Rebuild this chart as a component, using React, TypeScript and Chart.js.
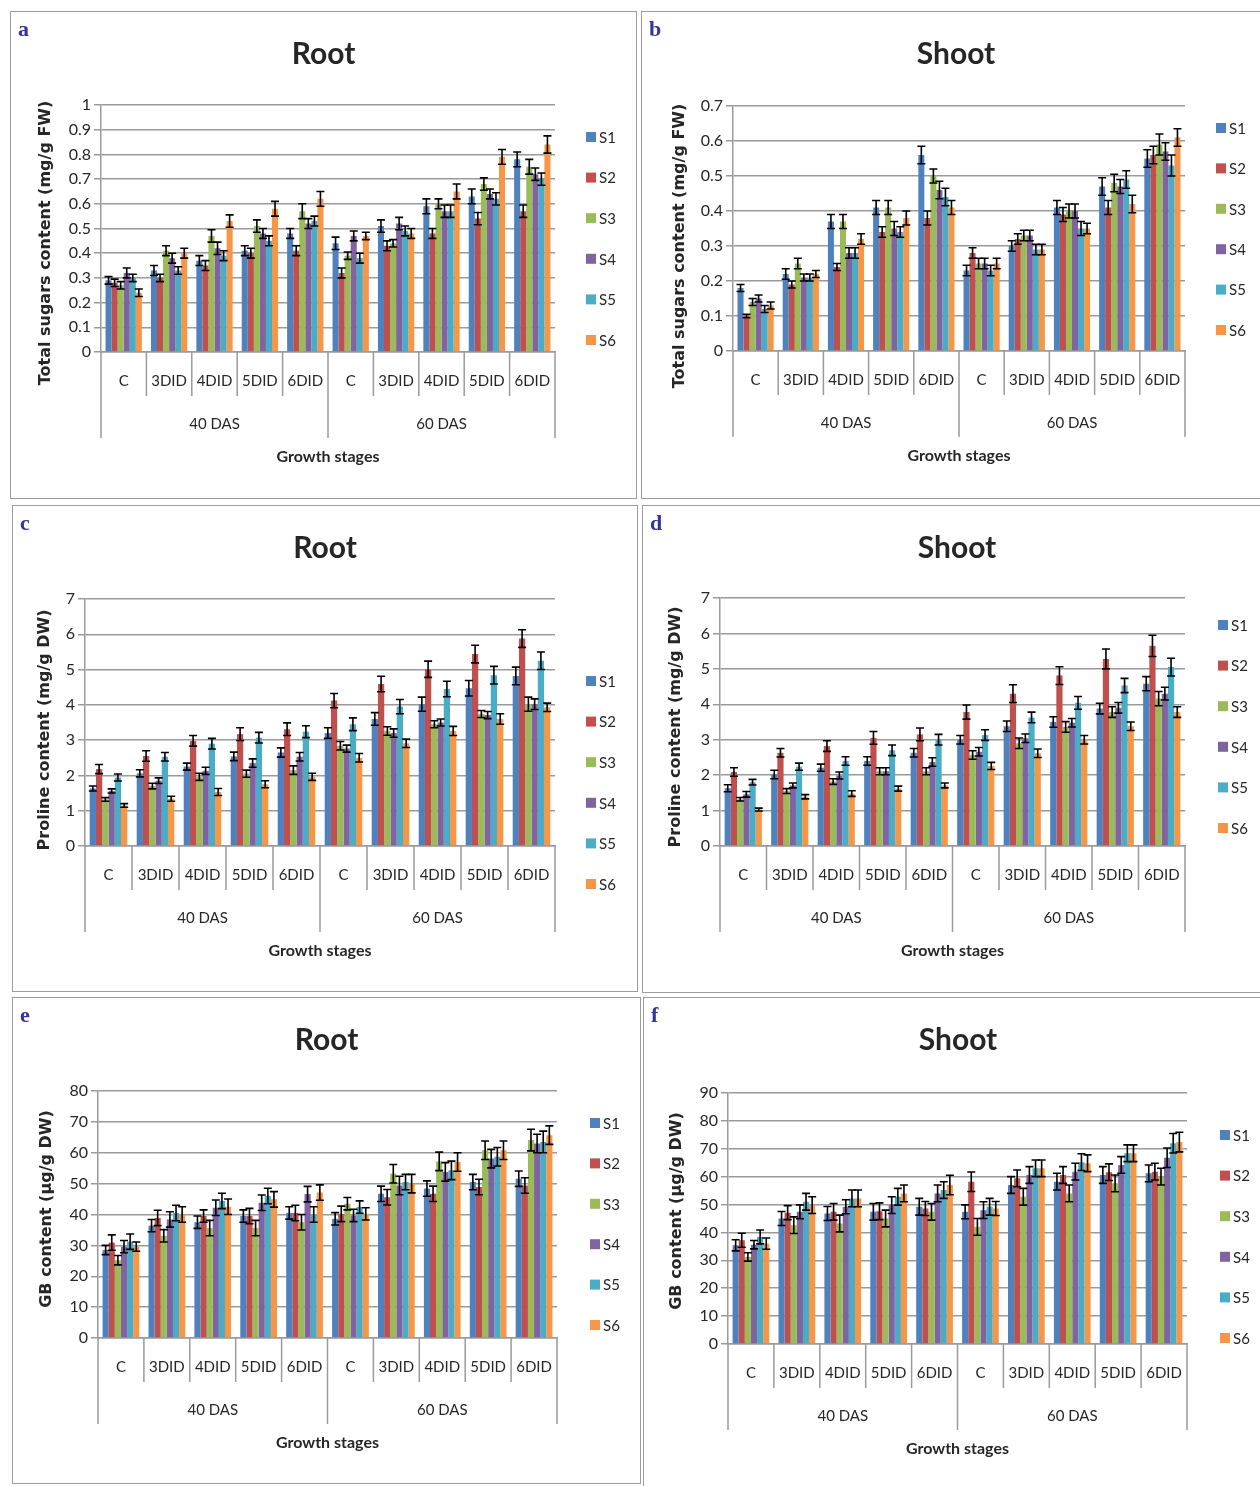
import React, { useEffect, useRef } from 'react';
import { Chart, registerables } from 'chart.js';

Chart.register(...registerables);

// ---------- data ----------
const categories = ['C', '3DID', '4DID', '5DID', '6DID', 'C', '3DID', '4DID', '5DID', '6DID'];
const stageGroups = ['40 DAS', '60 DAS'];
const seriesLabels = ['S1', 'S2', 'S3', 'S4', 'S5', 'S6'];
const seriesColors = ['#4F81BD', '#C0504D', '#9BBB59', '#8064A2', '#4BACC6', '#F79646'];

// a: Total sugars, root (mg/g FW)
const sugarRoot = [
  [0.29, 0.33, 0.37, 0.41, 0.48, 0.44, 0.51, 0.59, 0.63, 0.78],
  [0.28, 0.30, 0.35, 0.40, 0.41, 0.32, 0.43, 0.48, 0.54, 0.57],
  [0.27, 0.41, 0.47, 0.51, 0.57, 0.39, 0.44, 0.60, 0.68, 0.75],
  [0.32, 0.38, 0.42, 0.48, 0.52, 0.47, 0.52, 0.57, 0.64, 0.72],
  [0.30, 0.33, 0.39, 0.45, 0.53, 0.38, 0.49, 0.57, 0.62, 0.70],
  [0.24, 0.40, 0.53, 0.58, 0.62, 0.47, 0.48, 0.65, 0.79, 0.84],
];
const sugarRootErr = [
  [0.015, 0.02, 0.02, 0.02, 0.02, 0.025, 0.025, 0.03, 0.03, 0.03],
  [0.015, 0.015, 0.02, 0.02, 0.02, 0.02, 0.02, 0.02, 0.025, 0.025],
  [0.015, 0.02, 0.025, 0.025, 0.03, 0.015, 0.015, 0.02, 0.025, 0.03],
  [0.02, 0.02, 0.025, 0.02, 0.02, 0.02, 0.025, 0.025, 0.02, 0.025],
  [0.015, 0.015, 0.02, 0.02, 0.02, 0.02, 0.02, 0.025, 0.025, 0.025],
  [0.015, 0.02, 0.025, 0.03, 0.03, 0.015, 0.02, 0.03, 0.03, 0.035],
];

// b: Total sugars, shoot (mg/g FW)
const sugarShoot = [
  [0.18, 0.22, 0.37, 0.41, 0.56, 0.23, 0.30, 0.41, 0.47, 0.55],
  [0.10, 0.19, 0.24, 0.34, 0.38, 0.28, 0.32, 0.39, 0.41, 0.56],
  [0.14, 0.25, 0.37, 0.41, 0.50, 0.25, 0.33, 0.40, 0.48, 0.59],
  [0.15, 0.21, 0.28, 0.35, 0.46, 0.25, 0.33, 0.40, 0.47, 0.57],
  [0.12, 0.21, 0.28, 0.34, 0.44, 0.23, 0.29, 0.35, 0.49, 0.53],
  [0.13, 0.22, 0.32, 0.38, 0.41, 0.25, 0.29, 0.35, 0.42, 0.61],
];
const sugarShootErr = [
  [0.01, 0.015, 0.02, 0.02, 0.025, 0.015, 0.015, 0.02, 0.025, 0.025],
  [0.005, 0.01, 0.01, 0.015, 0.02, 0.015, 0.015, 0.02, 0.02, 0.025],
  [0.01, 0.015, 0.02, 0.02, 0.02, 0.015, 0.015, 0.02, 0.025, 0.03],
  [0.01, 0.01, 0.015, 0.02, 0.025, 0.015, 0.015, 0.02, 0.02, 0.025],
  [0.01, 0.01, 0.015, 0.015, 0.025, 0.015, 0.015, 0.02, 0.025, 0.03],
  [0.01, 0.01, 0.015, 0.02, 0.02, 0.015, 0.015, 0.015, 0.025, 0.025],
];

// c: Proline, root (mg/g DW)
const prolineRoot = [
  [1.63, 2.06, 2.25, 2.54, 2.65, 3.20, 3.60, 4.02, 4.47, 4.82],
  [2.18, 2.55, 2.98, 3.17, 3.31, 4.12, 4.59, 5.01, 5.44, 5.88],
  [1.32, 1.70, 1.96, 2.05, 2.15, 2.84, 3.26, 3.45, 3.74, 4.02],
  [1.56, 1.85, 2.13, 2.35, 2.53, 2.76, 3.20, 3.50, 3.71, 4.02],
  [1.94, 2.53, 2.90, 3.07, 3.24, 3.45, 3.95, 4.45, 4.84, 5.25],
  [1.15, 1.34, 1.53, 1.75, 1.96, 2.50, 2.91, 3.26, 3.60, 3.93],
];
const prolineRootErr = [
  [0.07, 0.1, 0.1, 0.12, 0.13, 0.15, 0.18, 0.2, 0.22, 0.25],
  [0.13, 0.15, 0.15, 0.18, 0.18, 0.2, 0.22, 0.23, 0.25, 0.25],
  [0.05, 0.08, 0.1, 0.1, 0.12, 0.12, 0.12, 0.1, 0.1, 0.2],
  [0.06, 0.08, 0.1, 0.12, 0.12, 0.1, 0.12, 0.1, 0.1, 0.15],
  [0.1, 0.12, 0.15, 0.15, 0.17, 0.18, 0.2, 0.22, 0.25, 0.25],
  [0.05, 0.07, 0.1, 0.1, 0.1, 0.12, 0.12, 0.13, 0.15, 0.12],
];

// d: Proline, shoot (mg/g DW)
const prolineShoot = [
  [1.63, 2.02, 2.21, 2.40, 2.63, 3.00, 3.38, 3.50, 3.88, 4.58],
  [2.09, 2.63, 2.82, 3.05, 3.15, 3.78, 4.30, 4.81, 5.28, 5.65],
  [1.32, 1.55, 1.82, 2.11, 2.11, 2.57, 2.90, 3.36, 3.78, 4.16],
  [1.46, 1.71, 1.99, 2.11, 2.37, 2.66, 3.04, 3.48, 3.90, 4.30],
  [1.80, 2.24, 2.40, 2.70, 3.00, 3.13, 3.63, 4.04, 4.53, 5.05],
  [1.03, 1.39, 1.48, 1.62, 1.71, 2.26, 2.62, 3.00, 3.38, 3.78],
];
const prolineShootErr = [
  [0.1, 0.12, 0.1, 0.12, 0.12, 0.12, 0.15, 0.15, 0.15, 0.2],
  [0.12, 0.12, 0.15, 0.18, 0.18, 0.2, 0.25, 0.25, 0.28, 0.3],
  [0.05, 0.07, 0.08, 0.1, 0.1, 0.12, 0.15, 0.15, 0.15, 0.2],
  [0.08, 0.07, 0.1, 0.1, 0.12, 0.12, 0.12, 0.12, 0.15, 0.18],
  [0.08, 0.1, 0.12, 0.15, 0.15, 0.15, 0.15, 0.18, 0.2, 0.25],
  [0.04, 0.06, 0.08, 0.07, 0.07, 0.1, 0.12, 0.12, 0.12, 0.15],
];

// e: Glycine betaine, root (µg/g DW)
const gbRoot = [
  [28.5, 36.4, 37.5, 39.5, 40.5, 38.6, 46.7, 48.4, 50.5, 51.6],
  [30.9, 38.9, 39.5, 39.5, 40.5, 40.2, 45.6, 46.7, 48.9, 49.4],
  [25.2, 33.1, 35.6, 35.6, 37.5, 43.5, 53.2, 57.2, 60.8, 64.1],
  [29.6, 38.4, 42.2, 43.8, 46.6, 39.7, 49.4, 53.8, 58.1, 63.0],
  [31.2, 40.5, 44.4, 46.0, 40.0, 42.4, 50.5, 54.3, 58.7, 63.5],
  [29.6, 40.0, 42.5, 44.9, 47.1, 40.2, 50.0, 57.0, 60.8, 65.7],
];
const gbRootErr = [
  [1.5, 2, 2, 2, 2, 2, 2.5, 2.5, 2.5, 2.5],
  [2.5, 2.5, 2, 2.5, 2.5, 2.5, 2.5, 2.5, 2.5, 2.5],
  [1.5, 2, 2.5, 2.5, 2.5, 2, 3, 3, 3, 3.5],
  [2, 2.5, 2.5, 2.5, 2.5, 2, 3, 3, 3, 3],
  [2.5, 2.5, 2.5, 2.5, 2.5, 2, 2.5, 3, 3, 3.5],
  [1.5, 2.5, 2.5, 2.5, 2.5, 2, 3, 3, 3, 3],
];

// f: Glycine betaine, shoot (µg/g DW)
const gbShoot = [
  [35.4, 45.0, 46.8, 47.4, 49.2, 47.4, 57.0, 58.2, 60.6, 61.2],
  [37.2, 47.1, 47.4, 47.6, 48.6, 58.2, 59.4, 60.6, 61.6, 61.8],
  [31.2, 42.6, 43.2, 45.0, 47.4, 42.0, 52.8, 54.0, 57.6, 60.0],
  [35.6, 47.4, 49.2, 49.8, 54.0, 48.0, 60.6, 61.8, 64.2, 66.8],
  [38.4, 51.0, 52.2, 52.8, 55.2, 49.2, 63.0, 65.2, 68.4, 72.0],
  [36.0, 49.8, 52.2, 54.0, 57.0, 48.6, 63.0, 64.8, 68.4, 72.4],
];
const gbShootErr = [
  [2, 2.5, 2.5, 3, 3, 2.5, 3, 3, 3, 3],
  [2.5, 2.5, 3, 3, 2.5, 3.5, 3, 3, 3, 3],
  [1.5, 3, 3, 3, 3, 3, 3, 3, 3, 3],
  [1.5, 2.5, 2.5, 3, 3, 3, 3, 3, 3, 3.5],
  [2.5, 3, 3, 3, 3, 3, 3, 3, 3, 3.5],
  [2, 3, 3, 3, 3.5, 2.5, 3, 3, 3, 3.5],
];

// ---------- panel layout (page coordinates) ----------
type PanelCfg = {
  letter: string; title: string; yTitle: string;
  values: number[][]; errors: number[][]; yMax: number; yStep: number; decimals: number;
  box: { l: number; t: number; w: number; h: number };
  plot: { l: number; r: number; t: number; b: number };
  legend: { x: number; y0: number; y1: number };
  yt: { x: number; cy: number };
};

const panels: PanelCfg[] = [
  { letter: 'a', title: 'Root', yTitle: 'Total sugars content (mg/g FW)', values: sugarRoot, errors: sugarRootErr, yMax: 1, yStep: 0.1, decimals: 1,
    box: { l: 10, t: 11, w: 627, h: 488 }, plot: { l: 101, r: 555, t: 105, b: 352 }, legend: { x: 586, y0: 137, y1: 340 }, yt: { x: 46, cy: 243 } },
  { letter: 'b', title: 'Shoot', yTitle: 'Total sugars content (mg/g FW)', values: sugarShoot, errors: sugarShootErr, yMax: 0.7, yStep: 0.1, decimals: 1,
    box: { l: 641, t: 11, w: 630, h: 488 }, plot: { l: 733, r: 1185, t: 106, b: 351 }, legend: { x: 1216, y0: 128, y1: 330 }, yt: { x: 680, cy: 246 } },
  { letter: 'c', title: 'Root', yTitle: 'Proline content (mg/g DW)', values: prolineRoot, errors: prolineRootErr, yMax: 7, yStep: 1, decimals: 0,
    box: { l: 12, t: 505, w: 626, h: 487 }, plot: { l: 85, r: 555, t: 599, b: 846 }, legend: { x: 586, y0: 681, y1: 884 }, yt: { x: 45, cy: 730 } },
  { letter: 'd', title: 'Shoot', yTitle: 'Proline content (mg/g DW)', values: prolineShoot, errors: prolineShootErr, yMax: 7, yStep: 1, decimals: 0,
    box: { l: 642, t: 505, w: 630, h: 488 }, plot: { l: 720, r: 1185, t: 598, b: 846 }, legend: { x: 1218, y0: 625, y1: 828 }, yt: { x: 676, cy: 727 } },
  { letter: 'e', title: 'Root', yTitle: 'GB content (µg/g DW)', values: gbRoot, errors: gbRootErr, yMax: 80, yStep: 10, decimals: 0,
    box: { l: 12, t: 997, w: 629, h: 487 }, plot: { l: 98, r: 557, t: 1091, b: 1338 }, legend: { x: 590, y0: 1123, y1: 1325 }, yt: { x: 47, cy: 1209 } },
  { letter: 'f', title: 'Shoot', yTitle: 'GB content (µg/g DW)', values: gbShoot, errors: gbShootErr, yMax: 90, yStep: 10, decimals: 0,
    box: { l: 643, t: 997, w: 630, h: 500 }, plot: { l: 728, r: 1187, t: 1093, b: 1344 }, legend: { x: 1220, y0: 1135, y1: 1338 }, yt: { x: 677, cy: 1211 } },
];

const GRID = '#9a9a9a';
const TEXT = '#262626';
const SANS = 'Lato, "Open Sans", sans-serif';
const X_AXIS_H = 120;

function Panel({ cfg }: { cfg: PanelCfg }) {
  const ref = useRef<HTMLCanvasElement>(null);
  const W = cfg.box.w - 2;
  const H = cfg.box.h - 2;

  useEffect(() => {
    const canvas = ref.current;
    if (!canvas) return;
    const ox = cfg.box.l + 1;
    const oy = cfg.box.t + 1;
    const plotL = cfg.plot.l - ox;
    const plotR = cfg.plot.r - ox;
    const plotT = cfg.plot.t - oy;
    const plotB = cfg.plot.b - oy;

    const extras = {
      id: 'panelExtras',
      afterDatasetsDraw(chart: any) {
        const ctx = chart.ctx;
        const ys = chart.scales.y;
        ctx.save();
        ctx.strokeStyle = '#000';
        ctx.lineWidth = 1.6;
        chart.data.datasets.forEach((ds: any, i: number) => {
          const meta = chart.getDatasetMeta(i);
          meta.data.forEach((el: any, j: number) => {
            const v = ds.data[j];
            const e = cfg.errors[i][j];
            const yTop = ys.getPixelForValue(v + e);
            const yBot = ys.getPixelForValue(v - e);
            const x = el.x;
            const cap = 4;
            ctx.beginPath();
            ctx.moveTo(x, yTop); ctx.lineTo(x, yBot);
            ctx.moveTo(x - cap, yTop); ctx.lineTo(x + cap, yTop);
            ctx.moveTo(x - cap, yBot); ctx.lineTo(x + cap, yBot);
            ctx.stroke();
          });
        });
        ctx.restore();
      },
      afterDraw(chart: any) {
        const ctx = chart.ctx;
        const xs = chart.scales.x;
        const area = chart.chartArea;
        const catW = xs.getPixelForValue(1) - xs.getPixelForValue(0);
        const start = xs.getPixelForValue(0) - catW / 2;
        const bottom = area.bottom;
        ctx.save();
        // category separators
        ctx.strokeStyle = GRID;
        ctx.lineWidth = 1.5;
        for (let k = 0; k <= categories.length; k++) {
          const x = start + k * catW;
          const long = k % 5 === 0;
          ctx.beginPath();
          ctx.moveTo(x, bottom);
          ctx.lineTo(x, bottom + (long ? 86 : 44));
          ctx.stroke();
        }
        // group labels
        ctx.fillStyle = TEXT;
        ctx.font = `15px ${SANS}`;
        ctx.textAlign = 'center';
        ctx.textBaseline = 'middle';
        stageGroups.forEach((g, gi) => {
          const cx = start + (gi * 5 + 2.5) * catW;
          ctx.fillText(g, cx, bottom + 72);
        });
        // x title
        ctx.font = `bold 16px ${SANS}`;
        ctx.fillText('Growth stages', (area.left + area.right) / 2, bottom + 105);
        // chart title
        ctx.font = `bold 30px ${SANS}`;
        ctx.fillText(cfg.title, W / 2, 42);
        // y title
        ctx.save();
        ctx.translate(cfg.yt.x - ox, cfg.yt.cy - oy);
        ctx.rotate(-Math.PI / 2);
        ctx.font = 'bold 16px "DejaVu Sans", sans-serif';
        ctx.fillText(cfg.yTitle, 0, 0);
        ctx.restore();
        // panel letter
        ctx.font = 'bold 22px "Liberation Serif", serif';
        ctx.fillStyle = '#34349c';
        ctx.textAlign = 'left';
        ctx.textBaseline = 'alphabetic';
        ctx.fillText(cfg.letter, 7, 24);
        // legend
        ctx.font = `15px ${SANS}`;
        ctx.textBaseline = 'middle';
        const n = chart.data.datasets.length;
        chart.data.datasets.forEach((ds: any, i: number) => {
          const y = cfg.legend.y0 - oy + (i * (cfg.legend.y1 - cfg.legend.y0)) / (n - 1);
          const x = cfg.legend.x - ox;
          ctx.fillStyle = ds.backgroundColor;
          ctx.fillRect(x, y - 5, 10, 10);
          ctx.fillStyle = TEXT;
          ctx.fillText(ds.label, x + 13, y + 1);
        });
        ctx.restore();
      },
    };

    const chart = new Chart(canvas, {
      type: 'bar',
      data: {
        labels: categories,
        datasets: seriesLabels.map((s, i) => ({
          label: s,
          data: cfg.values[i],
          backgroundColor: seriesColors[i],
          borderWidth: 0,
          categoryPercentage: 0.8,
          barPercentage: 1,
        })),
      },
      options: {
        responsive: false,
        animation: false,
        devicePixelRatio: 1,
        layout: { padding: { left: 0, top: plotT, right: W - plotR, bottom: H - plotB - X_AXIS_H } },
        plugins: { legend: { display: false }, title: { display: false }, tooltip: { enabled: false } },
        scales: {
          x: {
            grid: { display: false, drawTicks: false },
            border: { display: true, color: GRID, width: 1.5 },
            ticks: { font: { family: SANS, size: 15 }, color: TEXT, padding: 20, maxRotation: 0, autoSkip: false },
            afterFit: (s: any) => { s.height = X_AXIS_H; },
          },
          y: {
            min: 0,
            max: cfg.yMax,
            ticks: {
              stepSize: cfg.yStep,
              font: { family: SANS, size: 16 },
              color: TEXT,
              padding: 3,
              callback: (v: any) => String(Number(Number(v).toFixed(cfg.decimals))),
            },
            grid: { color: GRID, lineWidth: 1.5, tickLength: 7 },
            border: { color: GRID, width: 1.5 },
            afterFit: (s: any) => { s.width = plotL; },
          },
        },
      },
      plugins: [extras],
    } as any);
    return () => chart.destroy();
  }, [cfg]);

  return (
    <div
      style={{
        position: 'absolute',
        left: cfg.box.l,
        top: cfg.box.t,
        width: cfg.box.w,
        height: cfg.box.h,
        boxSizing: 'border-box',
        border: '1px solid #9c9c9c',
        background: '#fff',
      }}
    >
      <canvas ref={ref} width={W} height={H} style={{ display: 'block', width: W, height: H }} />
    </div>
  );
}

export default function App() {
  return (
    <div style={{ position: 'fixed', left: 0, top: 0, width: 1260, height: 1486, overflow: 'hidden', background: '#fff' }}>
      {panels.map((p) => (
        <Panel key={p.letter} cfg={p} />
      ))}
    </div>
  );
}
